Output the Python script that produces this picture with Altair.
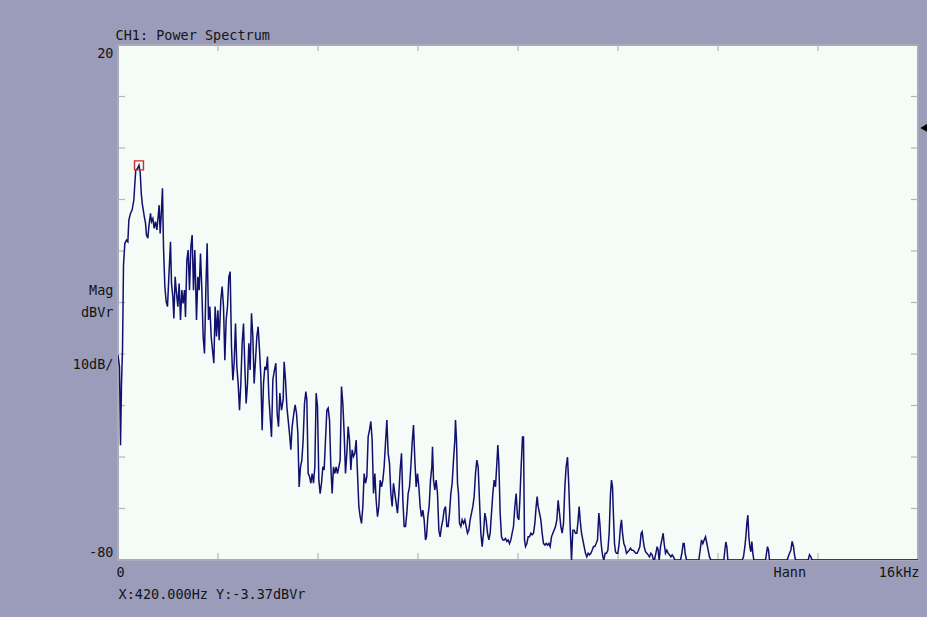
import altair as alt
import pandas as pd

# Spectrum trace: frequency (Hz) and magnitude (dBVr)
freq_hz = [
    0, 30, 50, 70, 90, 110, 137, 170, 197, 217, 250, 283, 317, 337, 355, 390, 420, 445, 465, 485,
    505, 525, 550, 570, 597, 617, 650, 670, 697, 723, 750, 777, 803, 823, 843, 863, 890, 910, 937, 963,
    990, 1017, 1050, 1070, 1097, 1117, 1143, 1170, 1197, 1223, 1250, 1277, 1303, 1330, 1350, 1377, 1403, 1430, 1457, 1483,
    1510, 1537, 1570, 1597, 1623, 1650, 1677, 1703, 1730, 1757, 1783, 1810, 1837, 1863, 1890, 1917, 1943, 1970, 1997, 2023,
    2057, 2083, 2110, 2137, 2163, 2190, 2217, 2243, 2270, 2297, 2323, 2350, 2377, 2403, 2430, 2457, 2483, 2510, 2537, 2563,
    2590, 2617, 2643, 2670, 2697, 2723, 2750, 2777, 2803, 2830, 2857, 2883, 2910, 2937, 2963, 2990, 3017, 3043, 3070,
    3097, 3130, 3157, 3183, 3210, 3237, 3270, 3303, 3323, 3350, 3377, 3403, 3430, 3457, 3483, 3517, 3543, 3570, 3597, 3623,
    3650, 3677, 3703, 3730, 3757, 3777, 3803, 3830, 3857, 3883, 3910, 3937, 3963, 3990, 4017, 4043, 4070, 4097, 4123, 4150,
    4177, 4203, 4230, 4257, 4283, 4310, 4337, 4363, 4390, 4417, 4443, 4470, 4497, 4523, 4550, 4577, 4603, 4630, 4657, 4683,
    4710, 4737, 4763, 4790, 4817, 4843, 4870, 4897, 4923, 4950, 4977, 5003, 5030, 5057, 5083, 5110, 5137, 5163, 5190, 5217,
    5243, 5270, 5297, 5323, 5350, 5377, 5403, 5430, 5457, 5483, 5510, 5537, 5563, 5590, 5617, 5643, 5670, 5697, 5723, 5750,
    5777, 5803, 5830, 5857, 5883, 5910, 5937, 5963, 5990, 6017, 6043, 6070, 6097, 6123, 6150,
    6170, 6197, 6223, 6250, 6277, 6290, 6310, 6337, 6363, 6390, 6417, 6443, 6470, 6497, 6523, 6550, 6577, 6603, 6630, 6657,
    6683, 6710, 6737, 6750, 6770, 6790, 6810, 6830, 6857, 6883, 6910, 6937, 6963, 6990, 7017, 7043, 7070, 7097, 7123, 7150,
    7177, 7203, 7230, 7257, 7283, 7310, 7337, 7363, 7390, 7417, 7443, 7470, 7497, 7523, 7550, 7577, 7597, 7617, 7643, 7670,
    7697, 7723, 7750, 7777, 7803, 7830, 7857, 7883, 7910, 7937, 7963, 7990, 8017, 8037, 8063, 8090, 8110, 8130, 8150, 8177,
    8203, 8230, 8257, 8283, 8310, 8337, 8363, 8383, 8403, 8430, 8457, 8483, 8510, 8537, 8563, 8590, 8617, 8643, 8670, 8697,
    8723, 8750, 8777, 8803, 8830, 8857, 8883, 8910, 8937, 8963, 8990, 9017, 9043, 9070, 9097, 9123, 9150, 9177, 9203, 9223,
    9243, 9270, 9297, 9323,
    9350, 9377, 9403, 9430, 9457, 9483, 9510, 9537, 9563, 9590, 9617, 9637, 9657, 9677, 9697, 9717, 9743, 9770, 9797, 9823,
    9850, 9870, 9890, 9910, 9930, 9950, 9970, 9997, 10023, 10050, 10070, 10090, 10117, 10143, 10170, 10197, 10223, 10250, 10277, 10303,
    10330, 10357, 10383, 10410, 10437, 10463, 10483, 10503, 10523, 10550, 10577, 10603, 10630, 10657, 10683, 10710, 10730, 10757, 10783, 10803,
    10823, 10850, 10877, 10903, 10923, 10950, 10977, 11003, 11030, 11057, 11083, 11110, 11137, 11250, 11277, 11303, 11323, 11343, 11370, 11617,
    11643, 11670, 11697, 11723, 11750, 11777, 11803, 11830, 11857, 12117, 12137, 12157, 12177, 12197,
    12483, 12510, 12537, 12557, 12577, 12597, 12617, 12637, 12657, 12677, 12697, 12717, 12950, 12970, 12990, 13010, 13030,
    13383, 13403, 13430, 13457, 13483, 13510, 13530, 13550, 13803, 13830, 13857, 13883, 16000,
]
level_db = [
    -40.2, -42.5, -57.7, -45.7, -39.2, -22.7, -18.5, -17.9, -18.2, -14.0, -12.7, -12.0, -10.1, -6.9, -4.3, -4.0, -3.37, -4.9, -8.8, -10.8,
    -12.0, -13.3, -14.6, -16.9, -17.5, -15.3, -12.7, -14.3, -13.7, -15.6, -14.3, -15.9, -13.3, -11.1, -16.6, -13.3, -7.8, -19.2, -26.9, -29.8,
    -30.8, -25.0, -18.2, -26.3, -28.9, -33.1, -25.0, -28.2, -30.8, -26.3, -33.4, -27.6, -30.2, -27.6, -32.8, -21.8, -19.8, -27.6, -19.2, -16.9,
    -27.6, -19.8, -33.4, -25.0, -27.6, -20.5, -27.6, -36.6, -39.9, -27.6, -18.5, -33.4, -30.8, -36.6, -39.2, -41.8, -30.8, -36.6, -31.5, -37.3,
    -29.5, -26.9, -30.8, -41.2, -33.4, -30.8, -25.0, -24.0, -38.6, -45.1, -41.8, -34.1, -42.5, -45.7, -50.9, -45.7, -37.9, -34.1, -42.5, -49.6,
    -45.7, -37.9, -43.1, -32.1, -36.6, -45.7, -41.2, -36.6, -34.7, -39.2, -44.4, -54.8, -45.7, -42.5, -43.1, -40.5, -48.3, -52.2, -56.1,
    -45.0, -43.1, -41.8, -51.5, -54.1, -47.6, -50.9, -48.9, -41.5, -45.0, -50.2, -52.8, -55.4, -58.6, -54.1, -51.5, -49.9, -51.5, -55.4, -65.8,
    -61.9, -60.6, -56.7, -49.6, -47.3, -48.9, -63.2, -63.8, -65.1, -63.2, -65.1, -61.9, -47.6, -50.2, -64.5, -67.1, -65.1, -61.9, -62.5, -56.7,
    -50.9, -50.5, -52.8, -61.9, -67.1, -61.9, -63.2, -61.9, -63.2, -61.9, -60.6, -46.3, -49.6, -55.4, -63.2, -59.3, -54.1, -56.7, -62.5, -58.6,
    -59.9, -59.3, -56.7, -63.2, -69.6, -71.6, -72.9, -69.6, -63.2, -65.1, -63.8, -56.1, -54.8, -53.1, -56.7, -67.1, -63.2, -68.4, -71.6, -69.6,
    -64.5, -65.8, -64.5, -61.9, -57.3, -52.8, -59.3, -61.2, -67.1, -69.6, -65.1, -67.1, -69.0, -70.9, -67.1, -62.5, -59.3, -68.4, -73.5, -73.5,
    -70.9, -67.1, -65.8, -61.9, -57.3, -53.8, -60.6, -65.8, -63.2, -65.8, -69.6, -71.6, -70.3, -72.2, -76.1,
    -75.5, -71.6, -69.6, -64.5, -61.9, -58.0, -64.5, -66.4, -64.5, -67.1, -74.2, -75.5, -73.5, -72.2, -70.3, -69.6, -73.5, -73.5, -70.9, -67.1,
    -65.1, -60.6, -56.7, -52.8, -56.7, -65.1, -67.1, -72.9, -73.5, -72.2, -72.9, -72.2, -73.5, -74.8, -74.2, -72.2, -70.9, -69.6, -67.7, -63.2,
    -60.6, -61.9, -68.4, -74.8, -77.4, -74.8, -70.9, -72.2, -74.8, -76.1, -74.8, -70.9, -67.1, -64.5, -65.8, -61.2, -57.7, -61.2, -70.9, -75.5,
    -76.1, -76.1, -75.8, -76.4, -76.1, -76.8, -76.1, -74.8, -73.5, -69.6, -67.1, -71.6, -72.2, -68.4, -61.9, -56.1, -56.1, -76.1, -77.4, -76.8,
    -75.5, -75.5, -74.8, -75.1, -74.8, -72.9, -69.6, -67.7, -69.6, -70.9, -72.2, -74.8, -76.8, -77.1, -76.8, -77.1, -76.8, -77.4, -75.5, -74.8,
    -74.2, -73.5, -72.2, -68.4, -70.9, -73.5, -74.8, -72.9, -65.8, -61.9, -60.0, -65.8, -73.5, -80.0, -74.2, -74.2, -74.8, -74.8, -72.2, -69.6,
    -72.2, -74.8, -76.1, -77.4,
    -78.7, -79.4, -78.7, -79.0, -78.7, -78.1, -77.4, -77.4, -76.8, -76.1, -70.9, -72.9, -76.1, -78.1, -79.4, -80.0, -78.7, -78.7, -78.1, -74.8,
    -67.1, -64.5, -65.8, -71.6, -76.8, -78.4, -78.7, -78.7, -76.8, -73.5, -72.2, -74.8, -76.8, -77.4, -78.7, -78.4, -78.1, -77.7, -78.1, -78.1,
    -78.4, -78.7, -78.7, -78.1, -77.4, -74.8, -74.5, -76.1, -77.4, -78.4, -78.7, -79.0, -79.4, -78.7, -79.0, -80.0, -80.0, -78.7, -77.4, -78.1,
    -80.0, -77.4, -76.1, -74.8, -76.8, -78.7, -78.1, -78.7, -79.0, -79.4, -79.0, -79.4, -80.0, -80.0, -78.7, -76.8, -76.8, -78.7, -80.0, -80.0,
    -78.1, -76.1, -76.8, -76.1, -75.5, -76.8, -78.1, -79.4, -80.0, -80.0, -78.1, -76.5, -77.4, -80.0,
    -80.0, -79.4, -77.4, -75.5, -72.9, -71.3, -75.5, -77.4, -78.4, -76.4, -78.7, -80.0, -80.0, -78.7, -77.4, -78.1, -80.0,
    -80.0, -79.4, -78.7, -78.1, -76.4, -77.4, -79.0, -80.0, -80.0, -79.0, -79.4, -80.0, -80.0,
]

# Cursor readout and reference level
marker_freq = [420.0]
marker_db = [-3.37]
ref_level_db = [3.9]

# Grid tick positions (ticks drawn inside the frame)
x_ticks_hz = [2000, 4000, 6000, 8000, 10000, 12000, 14000]
y_ticks_db = [10, 0, -10, -20, -30, -40, -50, -60, -70]

W, H = 800, 515
FONT = "DejaVu Sans Mono"
FS = 13.5
INK = "#141414"
TICK = "#b3b4bf"

xs = alt.Scale(domain=[0, 16000], nice=False, zero=False)
ys = alt.Scale(domain=[-80, 20], nice=False, zero=False)


def X(field="f"):
    return alt.X(f"{field}:Q", scale=xs, axis=None)


def Y(field="db"):
    return alt.Y(f"{field}:Q", scale=ys, axis=None)


spectrum = pd.DataFrame({"f": freq_hz, "db": level_db})
trace = alt.Chart(spectrum).mark_line(
    color="#10106e", strokeWidth=1.5, clip=True
).encode(x=X(), y=Y())

yt = pd.DataFrame({"db": y_ticks_db})
xt = pd.DataFrame({"f": x_ticks_hz})
tick_style = dict(color=TICK, strokeWidth=1.2)
left_ticks = alt.Chart(yt).mark_rule(**tick_style).encode(y=Y(), x=alt.value(0), x2=alt.value(7))
right_ticks = alt.Chart(yt).mark_rule(**tick_style).encode(y=Y(), x=alt.value(W - 7), x2=alt.value(W))
top_ticks = alt.Chart(xt).mark_rule(**tick_style).encode(x=X(), y=alt.value(0), y2=alt.value(6))
bottom_ticks = alt.Chart(xt).mark_rule(**tick_style).encode(x=X(), y=alt.value(H - 7), y2=alt.value(H))

cursor = alt.Chart(pd.DataFrame({"f": marker_freq, "db": marker_db})).mark_point(
    shape="square", filled=False, color="#d42a2a", size=80, strokeWidth=1.4, opacity=1
).encode(x=X(), y=Y())

ref_mark = alt.Chart(pd.DataFrame({"db": ref_level_db})).mark_point(
    shape="triangle-left", filled=True, color="#000000", size=170, opacity=1
).encode(y=Y(), x=alt.value(W + 8))


def label(text, x, y, align="left"):
    return alt.Chart(pd.DataFrame({"t": [text]})).mark_text(
        align=align, baseline="alphabetic", font=FONT, fontSize=FS, color=INK
    ).encode(text="t:N", x=alt.value(x), y=alt.value(y))


readout = f"X:{marker_freq[0]:.3f}Hz Y:{marker_db[0]:.2f}dBVr"

texts = [
    label("CH1: Power Spectrum", -2.5, -5.5),
    label("20", -4.5, 12.5, "right"),
    label("Mag", -4.5, 250, "right"),
    label("dBVr", -4.5, 272, "right"),
    label("10dB/", -4.5, 324, "right"),
    label("-80", -4.5, 512, "right"),
    label("0", -1.5, 532),
    label("Hann", 655.5, 532),
    label("16kHz", 801.5, 532, "right"),
    label(readout, 0.5, 554),
]

chart = alt.layer(
    left_ticks, right_ticks, top_ticks, bottom_ticks, trace, cursor, ref_mark, *texts
).properties(
    width=W,
    height=H,
    padding={"left": 118, "top": 45, "right": 9, "bottom": 57},
    autosize=alt.AutoSizeParams(type="none"),
    background="#9a9cba",
).configure_view(
    fill="#f5fbf6", stroke="#a9abbb", strokeWidth=2
)

chart.save("out.html", embed_options={"renderer": "svg", "actions": False})
